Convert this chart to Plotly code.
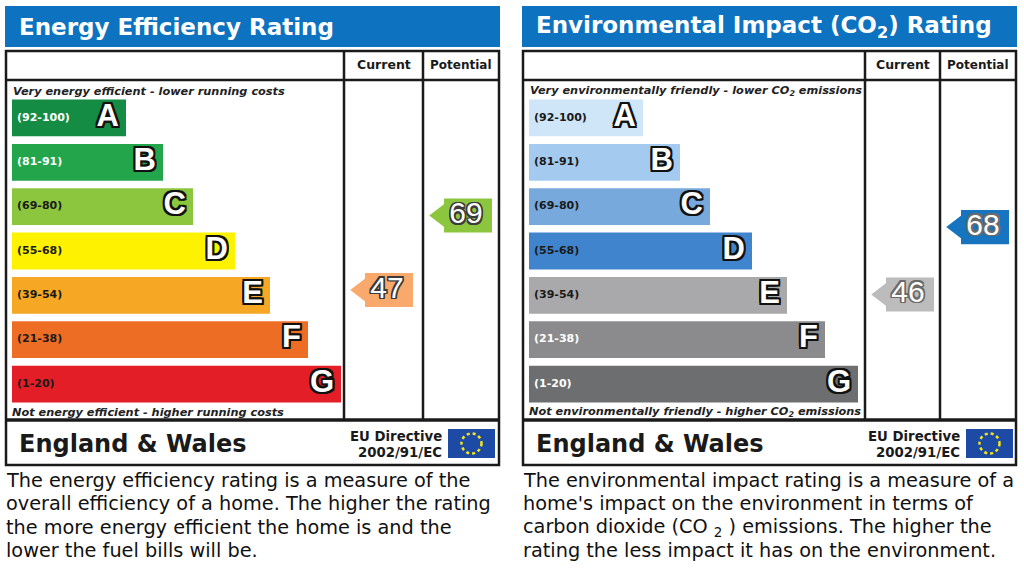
import plotly.graph_objects as go

W, H = 1024, 574

# rating bands, shared by both charts
bands = ["A", "B", "C", "D", "E", "F", "G"]
band_ranges = ["(92-100)", "(81-91)", "(69-80)", "(55-68)", "(39-54)", "(21-38)", "(1-20)"]
band_length = [114, 151, 181, 223, 258, 296, 329]

# energy efficiency chart
ee_colours = ["#158c43", "#23a64b", "#8cc63f", "#fff200", "#f6a724", "#ee6d25", "#e31e27"]
ee_label_colours = ["white", "white", "#1a1a1a", "#1a1a1a", "#1a1a1a", "#1a1a1a", "#1a1a1a"]
ee_ratings = [47, 69]          # current, potential
ee_rows = [3.88, 2.20]         # vertical place of the arrows, in band rows
ee_arrow_colours = ["#f8a96b", "#8cc63f"]

# environmental impact chart
ei_colours = ["#cfe5f8", "#a4cbef", "#77a9dc", "#3f84cd", "#a9a9ab", "#8b8b8d", "#6d6e70"]
ei_label_colours = ["#1a1a1a", "#1a1a1a", "#1a1a1a", "#1a1a1a", "#1a1a1a", "white", "white"]
ei_ratings = [46, 68]
ei_rows = [3.98, 2.46]
ei_arrow_colours = ["#bcbcbc", "#1774be"]

ee_text = ["The energy efficiency rating is a measure of the",
           "overall efficiency of a home. The higher the rating",
           "the more energy efficient the home is and the",
           "lower the fuel bills will be."]
ei_text = ["The environmental impact rating is a measure of a",
           "home's impact on the environment in terms of",
           "carbon dioxide (CO <sub>2</sub> ) emissions. The higher the",
           "rating the less impact it has on the environment."]

BLUE = "#0d72bf"
ARIAL = "Liberation Sans, Arial, sans-serif"
WIDE = "DejaVu Sans, Verdana, sans-serif"


def px(x):
    return x / W


def py(y):
    return 1 - y / H


def outline(colour, w=2):
    d = [(-w, -w), (w, -w), (-w, w), (w, w), (0, w), (w, 0), (0, -w), (-w, 0)]
    return ", ".join(f"{a}px {b}px 0 {colour}" for a, b in d)


fig = go.Figure()


def add_panel(bar_x0, col_cur, col_pot, colours, label_colours, ratings, rows,
              arrow_colours, number_outline):
    # bands
    fig.add_trace(go.Bar(
        y=list(range(len(bands))), x=band_length, base=bar_x0, orientation="h",
        width=0.83, marker=dict(color=colours, line=dict(width=0)),
        hoverinfo="skip", showlegend=False))
    fig.add_trace(go.Scatter(
        y=list(range(len(bands))), x=[bar_x0 + 5] * len(bands), mode="text",
        text=band_ranges, textposition="middle right",
        textfont=dict(family=WIDE, size=11, color=label_colours, weight="bold"),
        hoverinfo="skip", showlegend=False))
    fig.add_trace(go.Scatter(
        y=list(range(len(bands))), x=[bar_x0 + l - 7 for l in band_length], mode="text",
        text=bands, textposition="middle left",
        textfont=dict(family=ARIAL, size=31, color="white", weight="bold",
                      shadow=outline("#111", 2)),
        hoverinfo="skip", showlegend=False))

    # current / potential arrows
    body_left = [col_cur + 21, col_pot + 21]
    fig.add_trace(go.Bar(
        y=rows, x=[48, 48], base=body_left, orientation="h", width=0.77,
        marker=dict(color=arrow_colours, line=dict(width=0)),
        hoverinfo="skip", showlegend=False))
    fig.add_trace(go.Scatter(
        y=rows, x=body_left, mode="markers",
        marker=dict(symbol="triangle-left", size=29.5, color=arrow_colours, line=dict(width=0)),
        hoverinfo="skip", showlegend=False))
    fig.add_trace(go.Scatter(
        y=rows, x=[b + 22 for b in body_left], mode="text",
        text=[str(r) for r in ratings], textposition="middle center",
        textfont=dict(family=ARIAL, size=30, color="white", shadow=number_outline),
        hoverinfo="skip", showlegend=False))


add_panel(12, 344, 423, ee_colours, ee_label_colours, ee_ratings, ee_rows,
          ee_arrow_colours, outline("#3a3a3a", 1.5))
add_panel(529, 865, 940, ei_colours, ei_label_colours, ei_ratings, ei_rows,
          ei_arrow_colours, outline("#6a6a6a", 1.5))

shapes = []
annotations = []


def note(x, y, text, **kw):
    base = dict(x=px(x), y=py(y), xref="paper", yref="paper", text=text,
                showarrow=False, xanchor="left", yanchor="middle")
    base.update(kw)
    annotations.append(base)


def frame(x_left, x_right, col_cur, col_pot, flag_x0, title, top_note, bottom_note, paragraph):
    shapes.append(dict(type="rect", xref="paper", yref="paper",
                       x0=px(x_left - 1), x1=px(x_right + 1), y0=py(47), y1=py(6),
                       fillcolor=BLUE, line=dict(width=0), layer="below"))
    shapes.append(dict(type="rect", xref="paper", yref="paper",
                       x0=px(x_left), x1=px(x_right), y0=py(465), y1=py(51),
                       line=dict(color="#1a1a1a", width=2.5)))
    shapes.append(dict(type="line", xref="paper", yref="paper",
                       x0=px(x_left), x1=px(x_right), y0=py(80), y1=py(80),
                       line=dict(color="#1a1a1a", width=2.5)))
    shapes.append(dict(type="line", xref="paper", yref="paper",
                       x0=px(x_left), x1=px(x_right), y0=py(420), y1=py(420),
                       line=dict(color="#1a1a1a", width=3.5)))
    for cx in (col_cur, col_pot):
        shapes.append(dict(type="line", xref="paper", yref="paper",
                           x0=px(cx), x1=px(cx), y0=py(51), y1=py(420),
                           line=dict(color="#1a1a1a", width=2.5)))
    # EU flag
    shapes.append(dict(type="rect", xref="paper", yref="paper",
                       x0=px(flag_x0), x1=px(flag_x0 + 47), y0=py(458), y1=py(429),
                       fillcolor="#1d4aa5", line=dict(width=0)))
    shapes.append(dict(type="circle", xref="paper", yref="paper",
                       x0=px(flag_x0 + 13.5), x1=px(flag_x0 + 33.5), y0=py(453.5), y1=py(433.5),
                       line=dict(color="#f5e71a", width=2.5, dash="dot")))

    note(x_left + 11, 27, title, font=dict(family=WIDE, size=23, color="white", weight="bold"))
    note((col_cur + col_pot) / 2, 65, "Current", xanchor="center",
         font=dict(family=WIDE, size=12.5, color="#1a1a1a", weight="bold"))
    note((col_pot + x_right) / 2, 65, "Potential", xanchor="center",
         font=dict(family=WIDE, size=12, color="#1a1a1a", weight="bold"))
    note(x_left + 5, 91, top_note,
         font=dict(family=WIDE, size=11.3, color="#222", style="italic", weight="bold"))
    note(x_left + 4, 412, bottom_note,
         font=dict(family=WIDE, size=11.3, color="#222", style="italic", weight="bold"))
    note(x_left + 11, 444, "England &amp; Wales",
         font=dict(family=WIDE, size=24, color="#1a1a1a", weight="bold"))
    note(flag_x0 - 4, 436, "EU Directive", xanchor="right",
         font=dict(family=WIDE, size=13.3, color="#1a1a1a", weight="bold"))
    note(flag_x0 - 4, 452, "2002/91/EC", xanchor="right",
         font=dict(family=WIDE, size=13.3, color="#1a1a1a", weight="bold"))
    for line, ly in zip(paragraph, [480, 503.5, 527, 550.5]):
        note(x_left - 2, ly, line, font=dict(family=WIDE, size=19.3, color="#111"))


frame(6, 499, 344, 423, 448, "Energy Efficiency Rating",
      "Very energy efficient - lower running costs",
      "Not energy efficient - higher running costs", ee_text)
frame(523, 1016, 865, 940, 966, "Environmental Impact (CO<sub>2</sub>) Rating",
      "Very environmentally friendly - lower CO<sub>2</sub> emissions",
      "Not environmentally friendly - higher CO<sub>2</sub> emissions", ei_text)

fig.update_layout(
    width=W, height=H,
    margin=dict(l=0, r=0, t=0, b=0),
    paper_bgcolor="white", plot_bgcolor="rgba(0,0,0,0)",
    barmode="overlay",
    xaxis=dict(range=[0, W], domain=[0, 1], visible=False, fixedrange=True),
    yaxis=dict(range=[6.5, -0.5], domain=[py(406.2), py(95.8)], visible=False, fixedrange=True),
    shapes=shapes, annotations=annotations,
    showlegend=False,
)

fig.write_html("out.html", config={"displayModeBar": False},
               post_script="document.body.style.margin = '0px';")
